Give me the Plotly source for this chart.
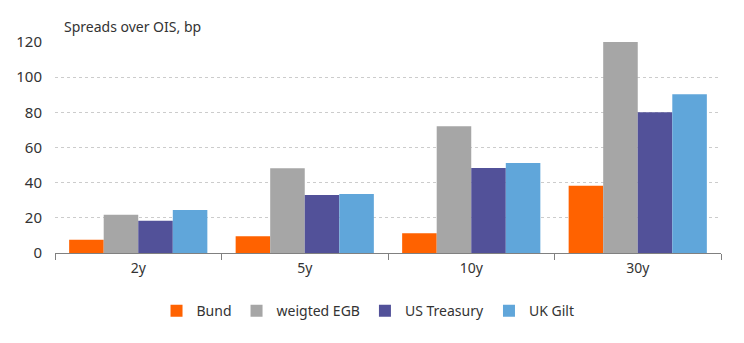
import plotly.graph_objects as go

categories = ["2y", "5y", "10y", "30y"]
bund = [7.5, 9.5, 11.3, 38.3]
egb = [21.7, 48.2, 72.1, 121]
ust = [18.3, 33, 48.3, 80]
gilt = [24.5, 33.5, 51.2, 90.3]

series = [
    ("Bund", bund, "#FF6200"),
    ("weigted EGB", egb, "#A6A6A6"),
    ("US Treasury", ust, "#525199"),
    ("UK Gilt", gilt, "#60A6DA"),
]

font = "Noto Sans, Open Sans, sans-serif"
fig = go.Figure()
for name, vals, col in series:
    fig.add_trace(go.Bar(
        x=categories, y=vals, name=name,
        marker=dict(color=col, line=dict(width=0)),
    ))

fig.update_layout(
    width=744, height=343,
    margin=dict(l=55, r=23, t=41.5, b=90),
    paper_bgcolor="white", plot_bgcolor="white",
    barmode="group", bargap=0.17, bargroupgap=0,
    font=dict(family=font, size=14, color="#333333"),
    showlegend=True,
    legend=dict(orientation="h", x=0.47, xanchor="center", y=-0.2, yanchor="top",
                font=dict(size=14, color="#333333"), itemwidth=30),
    annotations=[dict(text="Spreads over OIS, bp", xref="paper", yref="paper",
                      x=0.01, y=1.02, xanchor="left", yanchor="bottom",
                      showarrow=False, font=dict(size=14, color="#333333"))],
)
fig.update_xaxes(
    type="category", showline=True, linecolor="#808080", linewidth=1,
    ticks="outside", tickson="boundaries", ticklen=6, tickcolor="#808080",
    showgrid=False, tickfont=dict(size=14), ticklabelstandoff=2,
)
fig.update_yaxes(
    range=[0, 120], dtick=20, showgrid=True, gridcolor="#cccccc", griddash="dot",
    gridwidth=1, zeroline=False, ticks="", ticklabelstandoff=12,
    tickfont=dict(size=15),
)

fig.write_html("out.html")
